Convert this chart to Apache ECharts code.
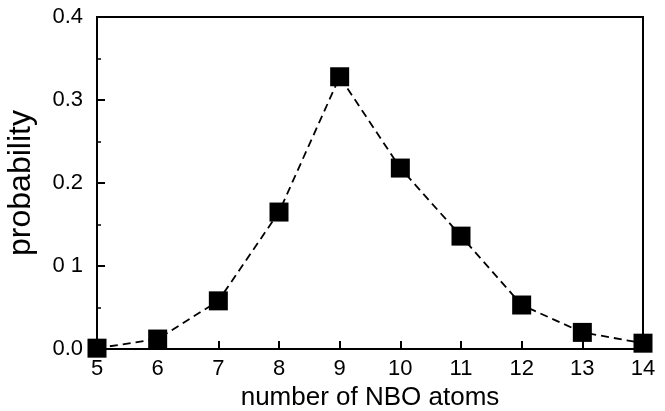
<!DOCTYPE html>
<html>
<head>
<meta charset="utf-8">
<script src="https://cdn.jsdelivr.net/npm/echarts@6/dist/echarts.min.js"></script>
<style>html,body{margin:0;padding:0;background:#fff}#c{width:665px;height:411px}</style>
</head>
<body>
<div id="c"></div>
<script>
const atoms = [5, 6, 7, 8, 9, 10, 11, 12, 13, 14];
const probability = [0.001, 0.012, 0.058, 0.165, 0.328, 0.218, 0.136, 0.053, 0.020, 0.007];
const yTickLabels = {"0": "0.0", "0.1": "0 1", "0.2": "0.2", "0.3": "0.3", "0.4": "0.4"};
const xTitle = "number of NBO atoms";
const yTitle = "probability";

const chart = echarts.init(document.getElementById('c'), null, {renderer: 'canvas'});
const font = 'Liberation Sans, Arial, Helvetica, sans-serif';
chart.setOption({
  animation: false,
  backgroundColor: '#fff',
  grid: {left: 97, right: 22, top: 17, bottom: 62, containLabel: false, outerBoundsMode: 'none',
    show: true, borderColor: '#000', borderWidth: 2, backgroundColor: 'transparent'},
  xAxis: {
    type: 'value', min: 5, max: 14, interval: 1,
    name: xTitle, nameLocation: 'middle', nameGap: 36,
    nameTextStyle: {color: '#000', fontSize: 26, fontFamily: font},
    axisLine: {show: true, lineStyle: {color: '#000', width: 2}},
    axisTick: {show: true, inside: true, length: 8, lineStyle: {color: '#000', width: 2}},
    axisLabel: {color: '#000', fontSize: 22, fontFamily: font, margin: 9},
    splitLine: {show: false}
  },
  yAxis: {
    type: 'value', min: 0, max: 0.4, interval: 0.1,
    name: yTitle, nameLocation: 'middle', nameGap: 60,
    nameTextStyle: {color: '#000', fontSize: 32, fontFamily: font},
    axisLine: {show: true, lineStyle: {color: '#000', width: 2}},
    axisTick: {show: true, inside: true, length: 8, lineStyle: {color: '#000', width: 2}},
    minorTick: {show: true, splitNumber: 2, length: 4, lineStyle: {color: '#000', width: 1.5}},
    axisLabel: {color: '#000', fontSize: 22, fontFamily: font, margin: 14,
      formatter: v => yTickLabels[String(Math.round(v * 10) / 10)] ?? v.toFixed(1)},
    splitLine: {show: false}
  },
  series: [{
    type: 'line',
    data: atoms.map((a, i) => [a, probability[i]]),
    clip: false,
    symbol: 'rect', symbolSize: 19,
    itemStyle: {color: '#000'},
    lineStyle: {color: '#000', width: 1.8, type: [8, 5]},
    z: 5
  }]
});
</script>
</body>
</html>
